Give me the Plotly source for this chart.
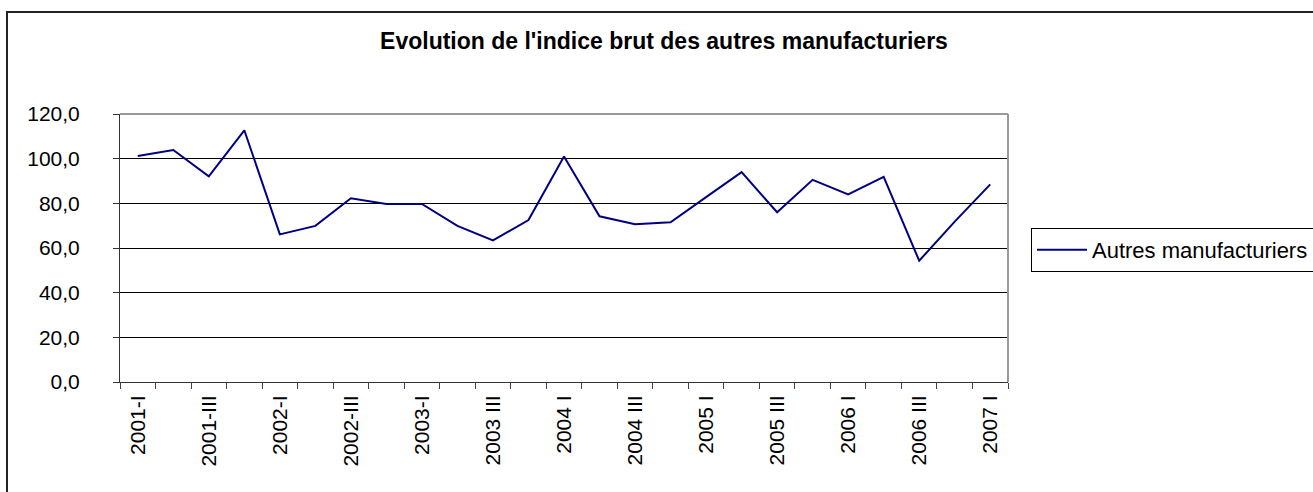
import plotly.graph_objects as go

categories = ["2001-I", "2001-II", "2001-III", "2001-IV",
              "2002-I", "2002-II", "2002-III", "2002-IV",
              "2003-I", "2003-II", "2003 III", "2003 IV",
              "2004 I", "2004 II", "2004 III", "2004 IV",
              "2005 I", "2005 II", "2005 III", "2005 IV",
              "2006 I", "2006 II", "2006 III", "2006 IV",
              "2007 I"]
values = [101.2, 103.9, 92.1, 112.7, 66.1, 69.9, 82.3, 79.7, 79.7, 69.9,
          63.4, 72.5, 101.0, 74.2, 70.6, 71.5, 82.8, 94.0, 76.0, 90.5,
          84.0, 91.9, 54.3, 71.8, 88.5]
tick_labels = [c if i % 2 == 0 else "" for i, c in enumerate(categories)]
y_ticks = [0, 20, 40, 60, 80, 100, 120]
y_tick_text = ["0,0", "20,0", "40,0", "60,0", "80,0", "100,0", "120,0"]

W, H = 1313, 492
L, R, T, B = 120, 1008, 114, 382

def px_x(p):
    return (p - L) / (R - L)

def px_y(p):
    return (B - p) / (B - T)

FONT = "Liberation Sans, Arial, sans-serif"

fig = go.Figure()
fig.add_trace(go.Scatter(
    x=categories, y=values, mode="lines", name="Autres manufacturiers",
    line=dict(color="#000080", width=2),
))

fig.update_layout(
    width=W, height=H,
    margin=dict(l=L, r=W - R, t=T, b=H - B, autoexpand=False),
    paper_bgcolor="white", plot_bgcolor="white",
    title=dict(text="<b>Evolution de l'indice brut des autres manufacturiers</b>",
               x=664 / W, xref="container", xanchor="center",
               y=1 - 41 / H, yref="container", yanchor="middle",
               font=dict(family=FONT, size=23, color="black")),
    font=dict(family=FONT, size=21, color="black"),
    showlegend=True,
    legend=dict(x=px_x(1031), xanchor="left", y=px_y(228), yanchor="top",
                bordercolor="black", borderwidth=1, bgcolor="white",
                font=dict(family=FONT, size=22, color="black"),
                itemwidth=50),
    xaxis=dict(type="category", tickson="boundaries", ticks="outside", ticklen=6,
               tickcolor="#444", tickvals=categories, ticktext=tick_labels,
               tickangle=-90, showgrid=False, showline=True, linecolor="#333",
               linewidth=1, ticklabelstandoff=4,
               tickfont=dict(family=FONT, size=21, color="black"),
               range=[-0.5, len(categories) - 0.5]),
    yaxis=dict(range=[0, 120], tickvals=y_ticks, ticktext=y_tick_text,
               ticks="outside", ticklen=6, tickcolor="#333", showgrid=True,
               gridcolor="black", gridwidth=1, showline=True, linecolor="#333",
               linewidth=1, zeroline=False, ticklabelstandoff=29,
               tickfont=dict(family=FONT, size=21, color="black")),
)

# gray top and right plot border
fig.add_shape(type="line", xref="paper", yref="paper", x0=0, x1=1, y0=1, y1=1,
              line=dict(color="#999", width=2))
fig.add_shape(type="line", xref="paper", yref="paper", x0=1, x1=1, y0=0, y1=1,
              line=dict(color="#999", width=2))
# outer chart frame
fig.add_shape(type="rect", xref="paper", yref="paper",
              x0=px_x(7), x1=px_x(1330), y0=px_y(12), y1=px_y(510),
              line=dict(color="#222", width=2), layer="below")

fig.write_html("out.html", config={"displayModeBar": False},
               post_script="document.body.style.margin='0';")
